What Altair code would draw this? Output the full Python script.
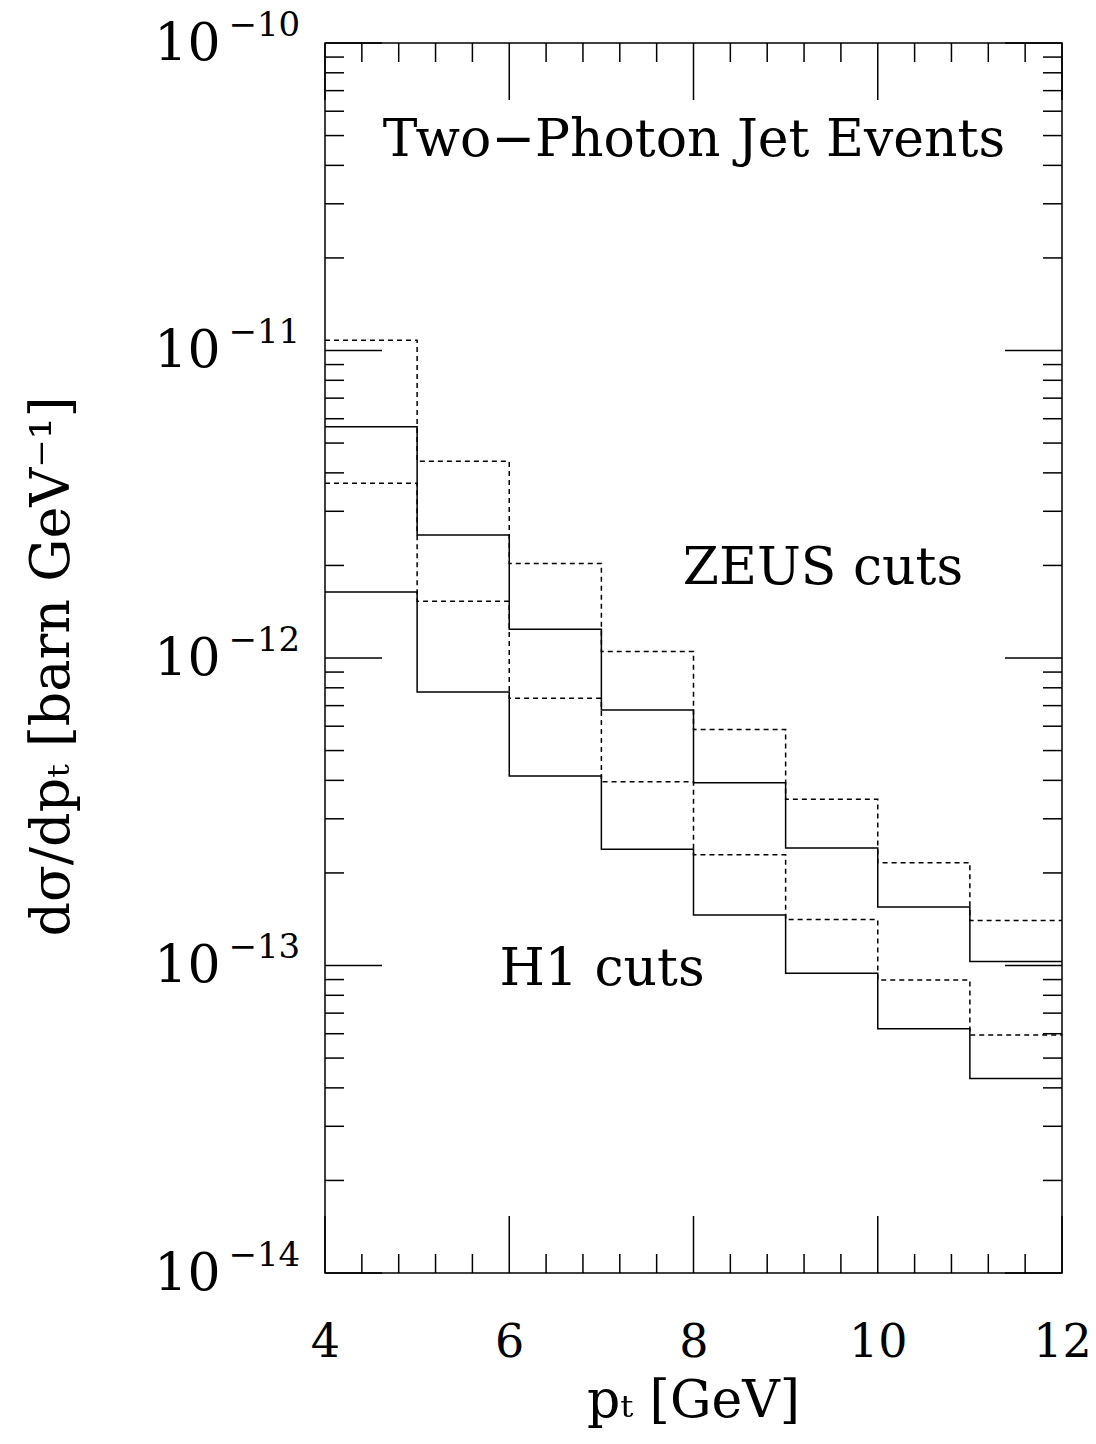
import altair as alt
import pandas as pd

# ---- data ----
bin_edges = [4, 5, 6, 7, 8, 9, 10, 11, 12]
upper_solid = [5.65e-12, 2.51e-12, 1.24e-12, 6.78e-13, 3.93e-13, 2.41e-13, 1.55e-13, 1.03e-13]
upper_dashed = [1.08e-11, 4.36e-12, 2.03e-12, 1.05e-12, 5.85e-13, 3.47e-13, 2.16e-13, 1.40e-13]
lower_solid = [1.64e-12, 7.75e-13, 4.13e-13, 2.39e-13, 1.46e-13, 9.44e-14, 6.23e-14, 4.29e-14]
lower_dashed = [3.70e-12, 1.53e-12, 7.40e-13, 3.96e-13, 2.29e-13, 1.41e-13, 8.97e-14, 5.94e-14]

x_major = [4, 6, 8, 10, 12]
x_minor = [4.4, 4.8, 5.2, 5.6, 6.4, 6.8, 7.2, 7.6, 8.4, 8.8, 9.2, 9.6, 10.4, 10.8, 11.2, 11.6]
y_decades = [1e-14, 1e-13, 1e-12, 1e-11, 1e-10]
y_exponents = ["−14", "−13", "−12", "−11", "−10"]
y_minor = [m * d for d in y_decades[:-1] for m in range(2, 10)]

ann_text = ["Two−Photon Jet Events", "ZEUS cuts", "H1 cuts"]
ann_x = [8.005, 9.405, 7.007]
ann_y = [4.29e-11, 1.74e-12, 8.65e-14]

W, H = 737, 1230
FONT = "DejaVu Serif"
MAJ, MIN = 57, 19


def hist_rows(name, vals):
    xs = bin_edges
    ys = vals + [vals[-1]]
    return [{"series": name, "pt": x, "val": y} for x, y in zip(xs, ys)]


solid_df = pd.DataFrame(hist_rows("upper_solid", upper_solid) + hist_rows("lower_solid", lower_solid))
dashed_df = pd.DataFrame(hist_rows("upper_dashed", upper_dashed) + hist_rows("lower_dashed", lower_dashed))

xscale = alt.Scale(domain=[4, 12], nice=False, zero=False)
yscale = alt.Scale(type="log", domain=[1e-14, 1e-10], nice=False)

# nested ternary: pick the exponent for each decade
exp_expr = "'" + y_exponents[-1] + "'"
for d, s in zip(reversed(y_decades[:-1]), reversed(y_exponents[:-1])):
    exp_expr = "datum.value < %g ? '%s' : (%s)" % (d * 3, s, exp_expr)

xaxis = alt.Axis(values=x_major, format="d", ticks=False, tickSize=0, domain=False, grid=False,
                 labelFontSize=46, labelPadding=47, labelFont=FONT, labelColor="black",
                 title="pₜ [GeV]", titleFont=FONT, titleFontSize=52, titleFontWeight="normal",
                 titleColor="black", titleX=368, titleY=143, titleBaseline="alphabetic",
                 titleAlign="center", labelFlush=False)
# base "10" of each y label, with the axis title
yaxis = alt.Axis(values=y_decades, labelExpr="'10'", ticks=False, tickSize=0, domain=False,
                 grid=False, labelFontSize=52, labelPadding=105, labelFont=FONT, labelColor="black",
                 labelBaseline="middle", labelAlign="right", labelFlush=False, orient="left",
                 title="dσ/dpₜ [barn GeV⁻¹]", titleFont=FONT, titleFontSize=54,
                 titleFontWeight="normal", titleColor="black", titleX=-257, titleY=623,
                 titleBaseline="alphabetic", titleAlign="center", titleAngle=270)
# exponent part of each y label
yaxis_exp = alt.Axis(values=y_decades, labelExpr=exp_expr, ticks=False, tickSize=0, domain=False,
                     grid=False, labelFontSize=34, labelPadding=97, labelFont=FONT, labelColor="black",
                     labelBaseline="middle", labelAlign="left", labelOffset=-18, labelFlush=False,
                     orient="left", title=None)

X = alt.X("pt:Q", scale=xscale, axis=xaxis)
Y = alt.Y("val:Q", scale=yscale, axis=yaxis)
Y_exp = alt.Y("val:Q", scale=yscale, axis=yaxis_exp)

solid = alt.Chart(solid_df).mark_line(interpolate="step-after", color="black", strokeWidth=1.5).encode(
    x=X, y=Y, detail="series:N",
)
dashed = alt.Chart(dashed_df).mark_line(interpolate="step-after", color="black", strokeWidth=1.5,
                                        strokeDash=[5, 4]).encode(
    x=X, y=Y_exp, detail="series:N",
)

layers = [solid]


def xticks(vals, length):
    df = pd.DataFrame({"pt": vals})
    base = alt.Chart(df).mark_rule(color="black", strokeWidth=1.5)
    bottom = base.encode(x=X, y=alt.value(H), y2=alt.value(H - length))
    top = base.encode(x=X, y=alt.value(0), y2=alt.value(length))
    return [bottom, top]


def yticks(vals, length):
    df = pd.DataFrame({"val": vals})
    base = alt.Chart(df).mark_rule(color="black", strokeWidth=1.5)
    left = base.encode(y=Y, x=alt.value(0), x2=alt.value(length))
    right = base.encode(y=Y, x=alt.value(W), x2=alt.value(W - length))
    return [left, right]


layers += xticks(x_major, MAJ) + xticks(x_minor, MIN) + yticks(y_decades, MAJ) + yticks(y_minor, MIN)

ann_df = pd.DataFrame({"text": ann_text, "pt": ann_x, "val": ann_y})
ann = alt.Chart(ann_df).mark_text(font=FONT, fontSize=52, align="center", baseline="alphabetic",
                                  color="black").encode(
    x=X, y=Y, text="text:N",
)
layers.append(ann)

inner = alt.layer(*layers)

chart = alt.layer(inner, dashed).resolve_axis(y="independent").properties(
    width=W, height=H,
    background="white",
    autosize=alt.AutoSizeParams(type="none"),
    padding={"left": 317, "top": 35, "right": 26, "bottom": 160},
).configure_view(stroke="black", strokeWidth=1.5)

chart.save("out.html", embed_options={"renderer": "svg", "actions": False})
